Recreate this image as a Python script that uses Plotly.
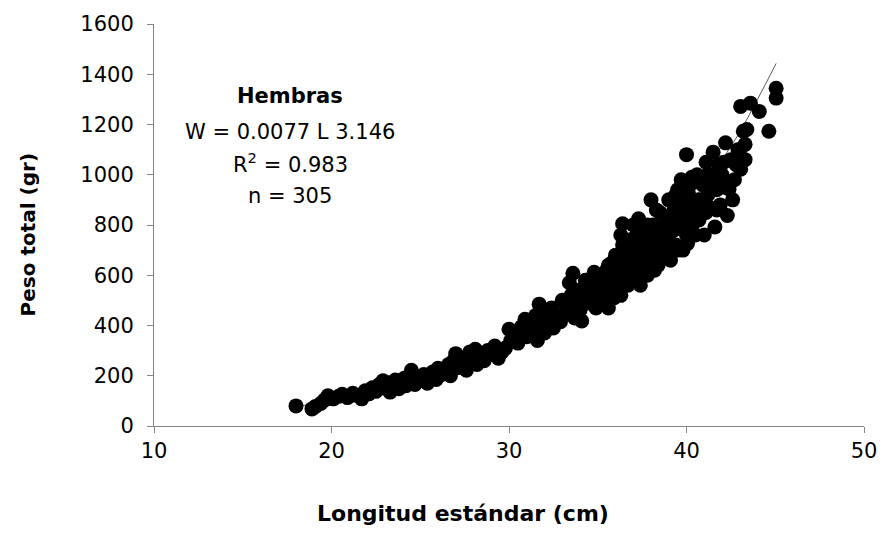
import plotly.graph_objects as go

# Scatter data (longitud estándar cm, peso total gr)
x_vals = [
    18.0, 18.9, 19.1, 19.4, 19.6, 19.8, 20.1, 20.4, 20.6,
    20.9, 21.2, 21.4, 21.7, 21.9, 22.1, 22.3,
    22.5, 22.7, 22.9, 23.0, 23.2, 23.3, 23.5, 23.6, 23.8, 23.9, 24.1, 24.2,
    24.4, 24.5, 24.7, 24.9, 25.0, 25.2, 25.4, 25.6, 25.7, 25.9, 26.0, 26.2,
    26.4, 26.6, 26.7, 26.9, 27.0, 27.1, 27.3, 27.5, 27.6, 27.8, 27.9, 28.1, 28.2,
    28.4, 28.6, 28.8, 29.0, 29.2, 29.4, 29.6, 29.8, 30.0, 30.1,
    30.3, 30.5, 30.7, 30.9, 31.0, 31.2, 31.4, 31.5, 31.7, 31.6, 31.8, 31.9, 32.0,
    32.2, 32.4, 32.5, 32.7, 32.9, 33.0, 33.2, 33.4, 33.5, 33.6, 33.7, 33.8, 33.9, 34.0, 34.1,
    34.2, 34.3, 34.4, 34.6, 34.8, 34.9, 35.0, 35.1, 35.2, 35.4, 35.5, 35.6, 35.6, 35.7, 35.8, 35.9, 36.0, 36.0,
    36.1, 36.2, 36.3, 36.4, 36.4, 36.5, 36.6, 36.7, 36.8, 36.9, 37.0, 37.0, 37.1, 37.2, 37.3, 37.3, 37.4,
    37.5, 37.6, 37.7, 37.8, 37.9, 38.0, 38.0,
    38.1, 38.2, 38.3, 38.4, 38.5, 38.6, 38.7, 38.8, 38.9, 39.0, 39.1, 39.2, 39.3, 39.4, 39.5, 39.6,
    39.7, 39.8, 39.9, 40.0, 40.0, 40.06,
    40.1, 40.2, 40.3, 40.4, 40.5, 40.6, 40.7, 40.8, 40.9, 41.0, 41.1, 41.2, 41.3, 41.4, 41.5, 41.6,
    41.7, 41.8, 41.9, 42.0,
    42.2, 42.3, 42.4, 42.5, 42.7, 42.9, 43.05, 43.05, 43.2, 43.3, 43.3, 43.6, 44.1, 44.64, 45.05, 45.05,
    34.5, 35.3, 35.8, 36.2, 36.6, 36.9, 37.1, 37.4, 37.6, 37.8, 38.0, 38.2, 38.4, 38.6, 38.8, 39.0,
    39.1, 39.3, 39.5, 39.6, 39.8, 40.0, 40.2, 40.3, 40.5, 40.7, 40.9, 41.1, 41.3, 41.5, 41.7, 41.9,
    42.1, 42.2, 42.6, 42.8, 43.0, 43.4, 36.3, 37.2, 38.5, 39.2, 33.0, 33.3, 32.6, 34.7, 35.0, 36.8,
    37.9, 40.1, 41.2, 39.4, 38.3,
]
y_vals = [
    80, 68, 78, 90, 103, 120, 108, 118, 126,
    113, 130, 122, 108, 140, 128, 152,
    138, 165, 180, 150, 172, 135, 160, 183, 148, 170, 190, 160,
    178, 222, 165, 195, 180, 205, 170, 198, 215, 185, 230, 205,
    220, 245, 200, 262, 288, 232, 250, 270, 222, 295, 258, 305, 245,
    278, 260, 300, 285, 318, 270, 295, 310, 385, 340,
    360, 330, 395, 425, 355, 410, 375, 440, 485, 340, 460, 400, 370,
    430, 470, 390, 445, 415, 500, 455, 570, 520, 608, 430, 480, 540, 460, 418,
    520, 580, 490, 555, 612, 470, 530, 590, 505, 560, 620, 470, 640, 540, 590, 510, 600, 680,
    560, 640, 520, 720, 805, 600, 670, 560, 740, 630, 700, 800, 590, 660, 825, 720, 560,
    770, 640, 700, 600, 750, 900, 680,
    800, 620, 720, 640, 850, 760, 680, 820, 730, 900, 660, 790, 860, 720, 940, 800,
    980, 700, 870, 1080, 760, 727,
    930, 820, 990, 880, 760, 1000, 900, 840, 960, 760, 1050, 920, 870, 990, 1090, 792,
    940, 1040, 880, 1000,
    1127, 838, 943, 1060, 980, 1100, 1022, 1272, 1173, 1121, 1060, 1285, 1252, 1173, 1344, 1305,
    530, 545, 650, 590, 720, 680, 750, 690, 730, 800, 760, 700, 780, 720, 690, 760,
    840, 780, 700, 880, 820, 900, 960, 790, 870, 820, 900, 850, 960, 1000, 860, 950,
    1050, 950, 900, 1040, 1100, 1180, 760, 610, 660, 700, 440, 480, 420, 500, 600, 600,
    660, 850, 1000, 920, 860,
]

# Trend line as drawn in the picture
trend_x = [18.0, 19.0, 20.0, 22.0, 24.0, 26.0, 28.0, 30.0, 32.0, 34.0, 36.0, 38.0, 40.0, 42.0, 43.0, 44.0, 45.05]
trend_y = [78, 88, 102, 132, 168, 210, 262, 322, 395, 480, 585, 715, 870, 1060, 1170, 1300, 1443]

x_ticks = [10, 20, 30, 40, 50]
y_ticks = [0, 200, 400, 600, 800, 1000, 1200, 1400, 1600]

label_lines = ["<b>Hembras</b>", "W = 0.0077 L 3.146", "R<sup>2</sup> = 0.983", "n = 305"]
label_ypx = [93, 129, 160, 194]

W, H = 889, 537
L, R, T, B = 154, 22, 20, 111
pw, ph = W - L - R, H - T - B


def px_x(p):
    return (p - L) / pw


def px_y(p):
    return (H - B - p) / ph


fig = go.Figure()
fig.add_trace(go.Scatter(
    x=trend_x, y=trend_y, mode="lines", line=dict(color="#595959", width=1, shape="spline"),
    hoverinfo="skip", showlegend=False,
))
fig.add_trace(go.Scatter(
    x=x_vals, y=y_vals, mode="markers",
    marker=dict(color="black", size=15, line=dict(width=0)), showlegend=False,
))

axis_color = "#868686"
tick_font = dict(family="DejaVu Sans, Liberation Sans, Arial", size=21, color="black")
fig.update_xaxes(
    range=[10, 50], tickvals=x_ticks, showgrid=False, zeroline=False,
    showline=True, linecolor=axis_color, linewidth=1,
    ticks="outside", ticklen=6, tickcolor=axis_color, tickfont=tick_font,
)
fig.update_yaxes(
    range=[0, 1600], tickvals=y_ticks, showgrid=False, zeroline=False,
    showline=True, linecolor=axis_color, linewidth=1,
    ticks="outside", ticklen=6, tickcolor=axis_color, tickfont=tick_font,
    ticklabelstandoff=9,
)

for txt, yy in zip(label_lines, label_ypx):
    fig.add_annotation(x=px_x(291), y=px_y(yy), xref="paper", yref="paper", text=txt, showarrow=False,
                       xanchor="center", yanchor="middle",
                       font=dict(family="DejaVu Sans, Lato, sans-serif", size=21, color="black"))

fig.add_annotation(x=px_x(464), y=px_y(514), xref="paper", yref="paper",
                   text="<b>Longitud estándar (cm)</b>", showarrow=False,
                   xanchor="center", yanchor="middle",
                   font=dict(family="DejaVu Sans, Liberation Sans, Arial", size=22, color="black"))
fig.add_annotation(x=px_x(27), y=px_y(233), xref="paper", yref="paper",
                   text="<b>Peso total (gr)</b>", showarrow=False, textangle=-90,
                   xanchor="center", yanchor="middle",
                   font=dict(family="DejaVu Sans, Liberation Sans, Arial", size=20, color="black"))

fig.update_layout(
    width=W, height=H, margin=dict(l=L, r=R, t=T, b=B),
    plot_bgcolor="white", paper_bgcolor="white",
)
fig.write_html("out.html")
